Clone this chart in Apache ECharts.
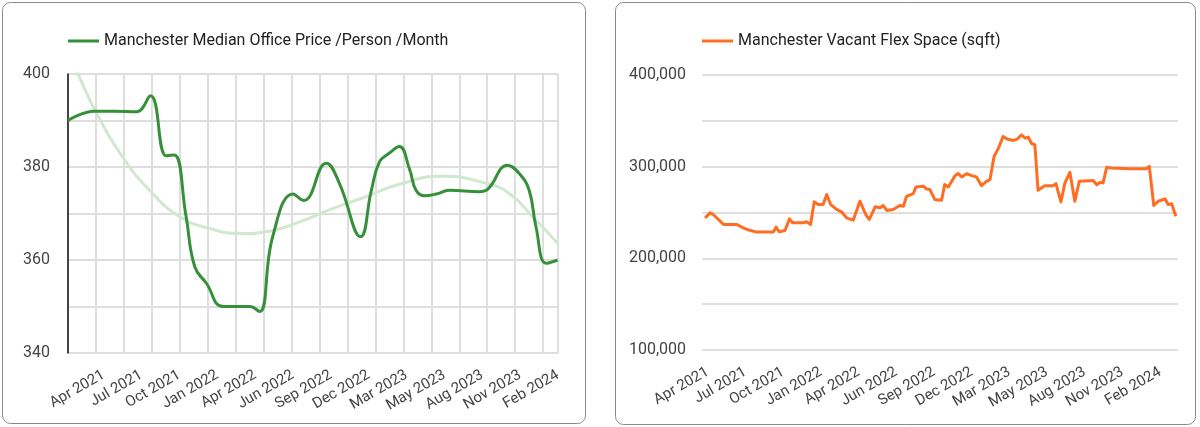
<!DOCTYPE html>
<html><head><meta charset="utf-8">
<script src="https://cdn.jsdelivr.net/npm/echarts@6/dist/echarts.min.js"></script>
<style>html,body{margin:0;padding:0;background:#fff}#c{width:1200px;height:427px}</style>
</head><body><div id="c"></div>
<script>
// ---------- data ----------
const tickLabels = ['Apr 2021','Jul 2021','Oct 2021','Jan 2022','Apr 2022','Jun 2022','Sep 2022','Dec 2022','Mar 2023','May 2023','Aug 2023','Nov 2023','Feb 2024'];

const priceName = 'Manchester Median Office Price /Person /Month';
// day offset from start of series
const priceDays   = [0, 59, 104, 152, 183, 218, 236, 262, 281, 307, 344, 403, 425, 454, 499, 523, 573, 602, 649, 673, 691, 713, 735, 758, 772, 791, 817, 846, 913, 928, 975, 1001, 1023, 1038, 1061, 1086];
const priceValues = [390.0, 392.0, 392.0, 391.9, 395.3, 382.4, 382.6, 369.3, 358.6, 355.0, 350.0, 350.0, 348.9, 365.0, 374.2, 372.8, 380.8, 376.5, 365.0, 375.0, 381.1, 383.0, 384.4, 379.4, 375.0, 373.8, 374.2, 375.0, 374.7, 375.0, 380.4, 378.6, 375.0, 367.2, 359.3, 360.0];

const trendDays   = [0, 22, 63, 126, 181, 248, 314, 381, 447, 514, 591, 661, 735, 831, 927, 979, 1031, 1086];
const trendValues = [404.5, 400.0, 391.6, 381.5, 375.0, 369.3, 366.8, 365.7, 366.2, 368.2, 371.2, 373.6, 376.3, 378.0, 376.5, 374.3, 369.3, 363.6];

const flexName = 'Manchester Vacant Flex Space (sqft)';
const flexDays = [7, 18, 25, 48, 77, 92, 100, 122, 159, 165, 172, 185, 195, 202, 226, 233, 242, 250, 259, 270, 278, 287, 300, 311, 322, 337, 352, 365, 373, 386, 397, 404, 412, 426, 441, 449, 456, 471, 477, 493, 501, 508, 519, 534, 541, 549, 564, 571, 579, 590, 601, 612, 623, 634, 642, 651, 660, 671, 680, 694, 703, 712, 720, 727, 735, 742, 749, 764, 783, 789, 800, 809, 820, 831, 841, 872, 880, 888, 894, 902, 913, 954, 991, 997, 1007, 1017, 1032, 1039, 1047, 1056];
const flexValues = [244200, 249600, 247800, 237000, 237000, 233300, 231500, 228600, 228600, 234000, 229000, 230400, 243100, 238800, 238800, 239900, 237000, 261600, 258700, 258700, 269600, 258700, 253300, 250800, 244200, 241600, 262300, 247800, 242400, 256200, 255100, 257600, 252200, 253300, 257600, 256900, 267700, 270700, 277900, 278600, 275700, 275000, 264100, 263400, 280400, 277900, 290200, 292400, 288800, 292400, 290200, 288800, 279300, 284000, 285900, 311200, 319200, 332900, 330100, 328600, 330100, 334800, 331200, 332300, 325000, 323900, 274300, 279300, 279300, 281500, 261600, 282300, 293800, 262300, 284000, 284800, 280400, 282900, 282300, 299300, 298600, 297800, 297800, 300300, 257600, 262300, 264900, 258700, 259400, 245900];

// ---------- options ----------
const FONT = 'Roboto';
const GRID_COLOR = '#dedede';
const zip = (a, b) => a.map((x, i) => [x, b[i]]);

function labelAxis(gridIndex, max, first) {
  const pos = tickLabels.map((_, i) => first + 84 * i);
  return {
    type: 'value', gridIndex, min: 0, max,
    axisLine: { show: false }, axisTick: { show: false }, splitLine: { show: false },
    axisLabel: {
      customValues: pos, rotate: 30, margin: 21, fontFamily: FONT, fontSize: 15, color: '#444',
      formatter: v => tickLabels[Math.round((v - first) / 84)] || ''
    }
  };
}

const legendText = { fontFamily: FONT, fontSize: 16, color: '#222' };

const option = {
  animation: false,
  textStyle: { fontFamily: FONT },
  graphic: [
    { type: 'rect', shape: { x: 2.5, y: 2.5, width: 583, height: 421, r: 8 }, style: { fill: 'none', stroke: '#8a8a8a', lineWidth: 1 } },
    { type: 'rect', shape: { x: 615.5, y: 2.5, width: 580, height: 422, r: 8 }, style: { fill: 'none', stroke: '#8a8a8a', lineWidth: 1 } }
  ],
  legend: [
    { data: [priceName], left: 63, top: 28, icon: 'rect', itemWidth: 31, itemHeight: 3, itemGap: 7, textStyle: legendText },
    { data: [flexName], left: 697, top: 28, icon: 'rect', itemWidth: 31, itemHeight: 3, itemGap: 7, textStyle: legendText }
  ],
  grid: [
    { left: 68, top: 74, width: 490, height: 279 },
    { left: 702, top: 75, width: 476, height: 275 }
  ],
  xAxis: [
    labelAxis(0, 1087, 79),
    { type: 'value', gridIndex: 0, min: 0, max: 1087, interval: 62, axisLabel: { show: false }, axisTick: { show: false }, axisLine: { show: false },
      splitLine: { show: true, lineStyle: { color: GRID_COLOR, width: 2 } } },
    labelAxis(1, 1061, 13)
  ],
  yAxis: [
    { type: 'value', gridIndex: 0, min: 340, max: 400, interval: 10,
      axisLine: { show: true, lineStyle: { color: '#111', width: 1.5 } }, axisTick: { show: false },
      axisLabel: { margin: 18, fontFamily: FONT, fontSize: 16, color: '#444', formatter: v => (v % 20 === 0 ? String(v) : '') },
      splitLine: { lineStyle: { color: GRID_COLOR, width: 2 } } },
    { type: 'value', gridIndex: 1, min: 100000, max: 400000, interval: 50000,
      axisLine: { show: false }, axisTick: { show: false },
      axisLabel: { margin: 16, fontFamily: FONT, fontSize: 16, color: '#444', formatter: v => (v % 100000 === 0 ? v.toLocaleString('en-US') : '') },
      splitLine: { lineStyle: { color: GRID_COLOR, width: 2 } } }
  ],
  series: [
    { name: 'trend', type: 'line', xAxisIndex: 0, yAxisIndex: 0, data: zip(trendDays, trendValues), smooth: 0.5, showSymbol: false,
      lineStyle: { color: '#cfe8cf', width: 3 }, itemStyle: { color: '#cfe8cf' }, z: 1 },
    { name: priceName, type: 'line', xAxisIndex: 0, yAxisIndex: 0, data: zip(priceDays, priceValues), smooth: 0.45, showSymbol: false,
      lineStyle: { color: '#36903a', width: 3 }, itemStyle: { color: '#36903a' }, z: 3 },
    { name: flexName, type: 'line', xAxisIndex: 2, yAxisIndex: 1, data: zip(flexDays, flexValues), showSymbol: false,
      lineStyle: { color: '#ff6d22', width: 3, join: 'round' }, itemStyle: { color: '#ff6d22' } }
  ]
};
const chart = echarts.init(document.getElementById('c'), null, { renderer: 'canvas' });
chart.setOption(option);
</script></body></html>
